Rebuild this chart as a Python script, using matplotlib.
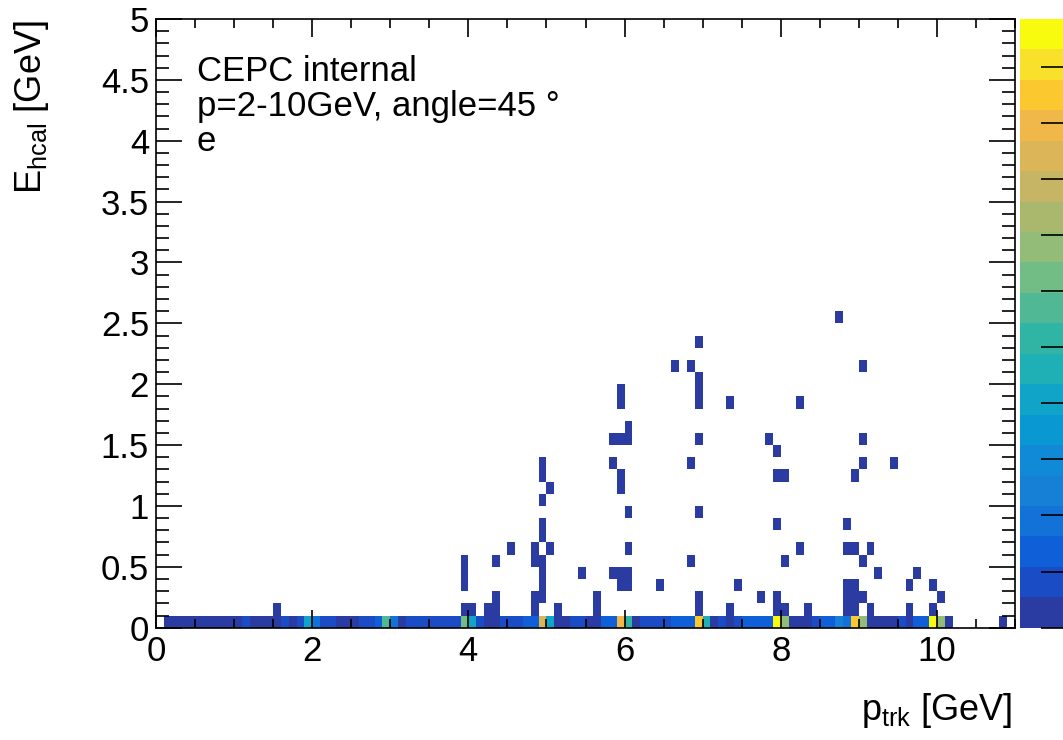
import matplotlib
matplotlib.use("Agg")
import matplotlib.pyplot as plt
from matplotlib.colors import ListedColormap, BoundaryNorm
import numpy as np

plt.rcParams['font.family'] = ['Liberation Sans', 'DejaVu Sans']
plt.rcParams['mathtext.fontset'] = 'custom'
plt.rcParams['mathtext.rm'] = 'Liberation Sans'

# binning of the 2D histogram (p_trk vs E_hcal)
n_xbins, x_lo, x_hi = 110, 0.0, 11.0
n_ybins, y_lo, y_hi = 50, 0.0, 5.0

# entries in the lowest E_hcal bin (0-0.1 GeV), one value per 0.1 GeV p_trk bin
e0_counts = [0, 1, 1, 1, 1, 1, 1, 1, 1, 1,      # 0.0 - 0.9
             1, 2, 1, 1, 1, 1, 2, 1, 2, 8,      # 1.0 - 1.9
             4, 2, 2, 1, 1, 1, 2, 2, 3, 11,     # 2.0 - 2.9
             4, 1, 2, 2, 2, 2, 2, 2, 2, 12,     # 3.0 - 3.9
             8, 2, 1, 1, 2, 2, 2, 3, 3, 17,     # 4.0 - 4.9
             8, 1, 1, 2, 2, 1, 1, 3, 3, 18,     # 5.0 - 5.9
             10, 1, 2, 2, 2, 2, 3, 3, 3, 19,    # 6.0 - 6.9
             9, 1, 2, 1, 2, 3, 3, 3, 3, 21,     # 7.0 - 7.9
             14, 1, 1, 1, 2, 3, 3, 5, 4, 19,    # 8.0 - 8.9
             14, 1, 1, 1, 1, 2, 1, 3, 3, 21,    # 9.0 - 9.9
             14, 1, 0, 0, 0, 0, 0, 0, 1, 0]     # 10.0 - 10.9

# single entries above the lowest bin (lower bin edges, GeV)
hit_p = [1.5, 3.9, 4.0, 4.2, 4.3, 4.8, 5.1, 5.6, 6.9, 7.3, 7.9, 8.0, 8.3, 8.8, 8.9, 9.1, 9.6, 9.9,
         4.3, 4.8, 4.9, 5.6, 6.9, 7.7, 7.9, 8.8, 8.9, 9.0, 10.0,
         3.9, 4.9, 5.9, 6.0, 6.4, 7.4, 8.8, 8.9, 9.6, 9.9,
         3.9, 4.9, 5.4, 5.8, 5.9, 6.0, 9.2, 9.7,
         3.9, 4.3, 4.8, 4.9, 6.8, 8.0, 9.0,
         4.5, 4.8, 5.0, 6.0, 8.2, 8.8, 8.9, 9.1,
         4.9,
         4.9, 7.9, 8.8,
         6.0, 6.9,
         4.9,
         5.0, 5.9,
         4.9, 5.9, 7.9, 8.0, 8.9,
         4.9, 5.8, 6.8, 9.0, 9.4,
         7.9,
         5.8, 5.9, 6.0, 6.9, 7.8, 9.0,
         6.0,
         5.9, 6.9, 7.3, 8.2,
         5.9, 6.9,
         6.9,
         6.6, 6.8, 9.0,
         6.9,
         8.7]
hit_e = [0.1] * 18 + [0.2] * 11 + [0.3] * 10 + [0.4] * 8 + [0.5] * 7 + [0.6] * 8 + \
        [0.7] * 1 + [0.8] * 3 + [0.9] * 2 + [1.0] * 1 + [1.1] * 2 + [1.2] * 5 + \
        [1.3] * 5 + [1.4] * 1 + [1.5] * 6 + [1.6] * 1 + [1.8] * 4 + [1.9] * 2 + \
        [2.0] * 1 + [2.1] * 3 + [2.3] * 1 + [2.5] * 1

z_max = 21.7
z_ticks = np.arange(0, 21, 2)

# ROOT-like palette, 20 contour levels
palette = ['#2a3ba2', '#1a4cc6', '#0f60d8', '#1272d8', '#1580d5', '#108ad6', '#0a98d3',
           '#10a5c8', '#1fb0b5', '#30b5a5', '#50b894', '#72bd85', '#92bc78', '#aab86e',
           '#c6b564', '#dbb558', '#f0b848', '#fbc830', '#f9e02a', '#f9fb0e']

# fill the histogram
H = np.zeros((n_ybins, n_xbins))
H[0, :] = e0_counts
for p, e in zip(hit_p, hit_e):
    H[int(round(e * 10)), int(round(p * 10))] += 1
H = np.ma.masked_equal(H, 0)

xedges = np.linspace(x_lo, x_hi, n_xbins + 1)
yedges = np.linspace(y_lo, y_hi, n_ybins + 1)

W, Ht = 1063, 740
fig = plt.figure(figsize=(W / 100, Ht / 100), dpi=100)
ax = fig.add_axes([156 / W, 1 - 627.7 / Ht, (1015 - 156) / W, (627.7 - 19) / Ht])

cmap = ListedColormap(palette)
norm = BoundaryNorm(np.linspace(0, z_max, len(palette) + 1), cmap.N)
mesh = ax.pcolormesh(xedges, yedges, H, cmap=cmap, norm=norm, edgecolors='none')

ax.set_xlim(x_lo, x_hi)
ax.set_ylim(y_lo, y_hi)
ax.set_xticks(np.arange(0, 11, 2))
ax.set_xticks(np.arange(0, 11.01, 0.5), minor=True)
ax.set_yticks(np.arange(0, 5.01, 0.5))
ax.set_yticks(np.arange(0, 5.01, 0.1), minor=True)
ax.set_xticklabels([f'{v:g}' for v in np.arange(0, 11, 2)])
ax.set_yticklabels([f'{v:g}' for v in np.arange(0, 5.01, 0.5)])

ax.tick_params(which='both', direction='in', top=True, right=True, width=1.2, labelsize=25)
ax.xaxis.set_tick_params(which='major', length=13, pad=5)
ax.xaxis.set_tick_params(which='minor', length=6.5)
ax.yaxis.set_tick_params(which='major', length=19, pad=5)
ax.yaxis.set_tick_params(which='minor', length=9.5)
for s in ax.spines.values():
    s.set_linewidth(1.2)

# axis titles, ROOT style (aligned to the end of the axis)
fig.text(12 / W, 1 - 20 / Ht, r'E$_{\mathregular{hcal}}$ [GeV]', rotation=90,
         ha='left', va='top', fontsize=26)
fig.text(1012 / W, 1 - 720 / Ht, r'p$_{\mathregular{trk}}$ [GeV]',
         ha='right', va='baseline', fontsize=26)

# labels
fig.text(197 / W, 1 - 81 / Ht, 'CEPC internal', fontsize=25, va='baseline')
fig.text(197 / W, 1 - 116 / Ht, 'p=2-10GeV, angle=45 °', fontsize=25, va='baseline')
fig.text(197 / W, 1 - 151 / Ht, 'e', fontsize=25, va='baseline')

# palette axis (runs off the right edge like in the original canvas)
cax = fig.add_axes([1020 / W, 1 - 627.7 / Ht, 52 / W, (627.7 - 19) / Ht])
cb = fig.colorbar(mesh, cax=cax, ticks=z_ticks)
cb.outline.set_visible(False)
cax.tick_params(direction='in', length=22, width=1.2, right=True, labelright=False)
cax.minorticks_off()

fig.savefig('out.png', dpi=100)
